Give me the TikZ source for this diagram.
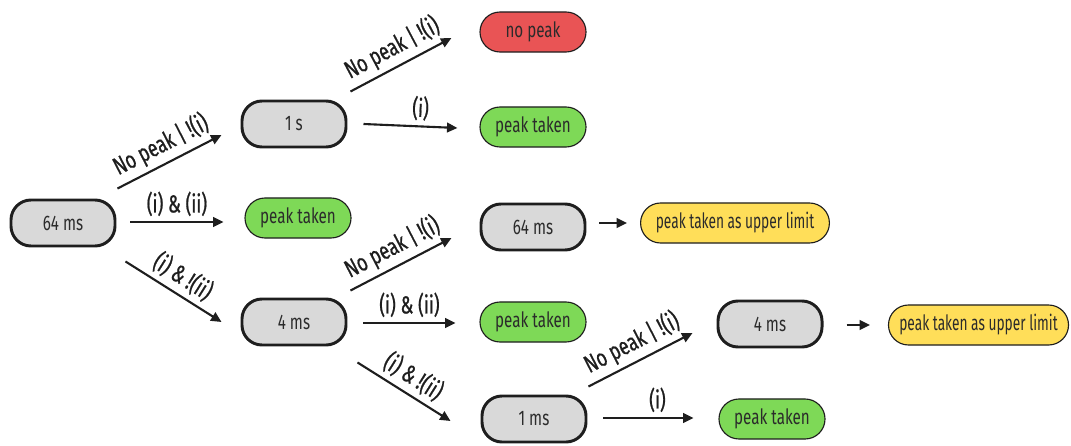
\documentclass[tikz,border=0pt]{standalone}
\usepackage{fontspec}
\setmainfont{Fira Sans}[FakeStretch=0.72]
\newfontfamily\labelfont{Fira Sans}[FakeStretch=0.72, FakeBold=0.8]
\newfontfamily\narrowfont{Fira Sans}[FakeStretch=0.65]
\usetikzlibrary{arrows.meta}
\definecolor{boxgray}{HTML}{D9D9D9}
\definecolor{edgedark}{HTML}{1E1E1E}
\definecolor{textdark}{HTML}{2B2B2B}
\definecolor{peakgreen}{HTML}{7ED957}
\definecolor{nopeakred}{HTML}{E95455}
\definecolor{limityellow}{HTML}{FFDE59}
\tikzstyle{timebox} = [
    rectangle,
    draw = edgedark,
    line width = 2.1pt,
    fill = boxgray,
    text = textdark,
    text centered,
    rounded corners = 0.5cm,
    minimum width = 2.6cm,
    minimum height = 1.15cm,
    font = \fontsize{15}{18}\selectfont
]
\tikzstyle{outbox} = [
    rectangle,
    draw = edgedark,
    line width = 0.8pt,
    text = textdark,
    text centered,
    rounded corners = 0.5cm,
    minimum width = 2.65cm,
    minimum height = 1cm,
    font = \fontsize{15}{18}\selectfont
]
\tikzstyle{limitbox} = [
    outbox,
    fill = limityellow,
    font = \narrowfont\fontsize{15}{18}\selectfont
]
\tikzstyle{arr} = [
    draw = edgedark,
    line width = 1.5pt,
    -{Triangle[length=0.26cm, width=0.24cm]}
]
\tikzstyle{lbl} = [
    above,
    sloped,
    inner sep = 3.5pt,
    text = edgedark,
    font = \labelfont\fontsize{17.5}{20}\selectfont
]

\begin{document}
\begin{tikzpicture}[x=0.025cm, y=-0.025cm]
    \useasboundingbox (0,0) rectangle (1071,446);
    % time windows
    \node[timebox] (n64a) at (63,223) {64 ms};
    \node[timebox] (n1s) at (294,124) {1 s};
    \node[timebox] (n4a) at (294,322) {4 ms};
    \node[timebox] (n64b) at (533,227) {64 ms};
    \node[timebox] (n1ms) at (534,419) {1 ms};
    \node[timebox] (n4b) at (770,324) {4 ms};
    % outcomes
    \node[outbox, fill = nopeakred] (nopk) at (533,32) {no peak};
    \node[outbox, fill = peakgreen] (pkA) at (533,127) {peak taken};
    \node[outbox, fill = peakgreen] (pkB) at (298,218) {peak taken};
    \node[outbox, fill = peakgreen] (pkC) at (533,322) {peak taken};
    \node[outbox, fill = peakgreen] (pkD) at (772,419) {peak taken};
    \node[limitbox, minimum width = 4.72cm] (limA) at (735,223) {peak taken as upper limit};
    \node[limitbox, minimum width = 4.5cm] (limB) at (978.5,325) {peak taken as upper limit};
    % decisions
    \draw[arr] ([shift={(1,-10)}]n64a.north east) -- node[lbl] {No peak | !(i)} ([shift={(-19,11)}]n1s.west);
    \draw[arr] ([shift={(14,-1)}]n64a.east) -- node[lbl] {(i) \& (ii)} ([shift={(-21,4)}]pkB.west);
    \draw[arr] ([shift={(9,14)}]n64a.south east) -- node[lbl] {(i) \& !(ii)} ([shift={(-19,0)}]n4a.west);
    \draw[arr] ([shift={(3,-8)}]n1s.north east) -- node[lbl] {No peak | !(i)} ([shift={(-28,6)}]nopk.west);
    \draw[arr] ([shift={(16,0)}]n1s.east) -- node[lbl, pos = 0.6] {(i)} ([shift={(-22,1)}]pkA.west);
    \draw[arr] ([shift={(3,-7)}]n4a.north east) -- node[lbl] {No peak | !(i)} ([shift={(-28,11)}]n64b.west);
    \draw[arr] ([shift={(13,-4)}]n64b.east) -- ([shift={(-13,0)}]limA.west);
    \draw[arr] ([shift={(16,1)}]n4a.east) -- node[lbl] {(i) \& (ii)} ([shift={(-24,1)}]pkC.west);
    \draw[arr] ([shift={(10,16)}]n4a.south east) -- node[lbl] {(i) \& !(ii)} ([shift={(-30,2)}]n1ms.west);
    \draw[arr] ([shift={(1,-8)}]n1ms.north east) -- node[lbl] {No peak | !(i)} ([shift={(-24,9)}]n4b.west);
    \draw[arr] ([shift={(23,1)}]n4b.east) -- ([shift={(-18,0)}]limB.west);
    \draw[arr] ([shift={(16,-1)}]n1ms.east) -- node[lbl, pos = 0.6] {(i)} ([shift={(-25,-1)}]pkD.west);
\end{tikzpicture}
\end{document}
